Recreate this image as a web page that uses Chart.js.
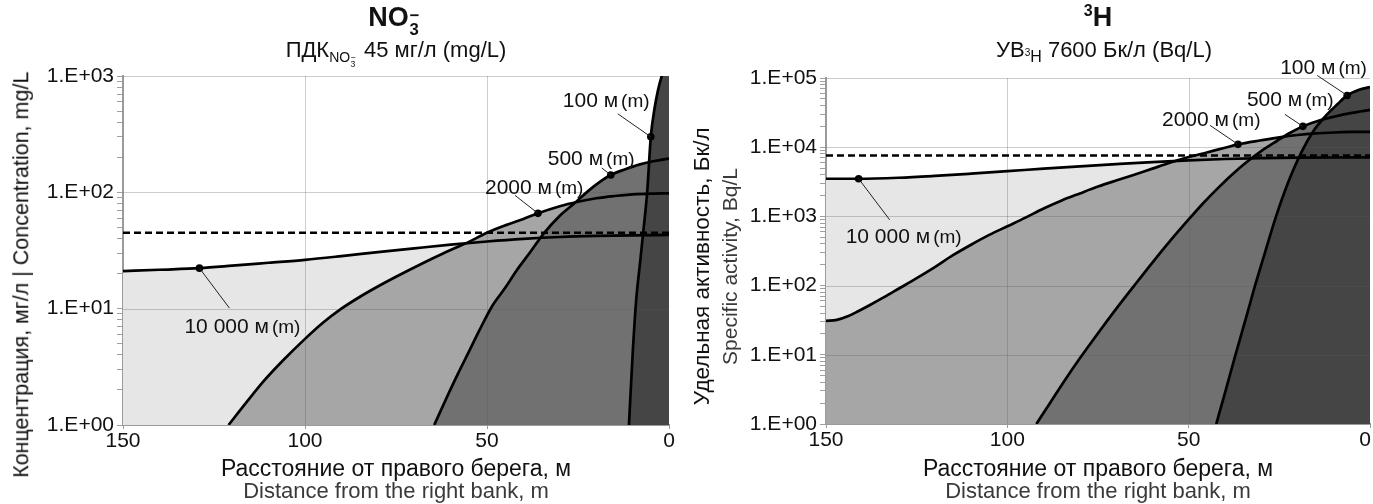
<!DOCTYPE html>
<html>
<head>
<meta charset="utf-8">
<script src="https://cdn.jsdelivr.net/npm/chart.js@4.4.1/dist/chart.umd.min.js"></script>
<style>
  body { margin: 0; background: #fff; font-family: "Liberation Sans", Arial, sans-serif; color: #111; }
  #wrap { position: relative; width: 1373px; height: 504px; overflow: hidden; }
  canvas { position: absolute; top: 0; }
  .lb { position: absolute; width: 600px; text-align: center; white-space: nowrap; line-height: 1; }
  .rot { transform: rotate(-90deg); }
  .ion { display: inline-block; position: relative; width: .55em; height: 0; }
  .ion .p { position: absolute; left: .04em; top: -1.05em; font-size: .62em; }
  .ion .b { position: absolute; left: .04em; top: -.22em; font-size: .62em; }
  .sb { font-size: 14px; position: relative; top: 5px; }
  .sp { font-size: 16px; position: relative; top: -10px; }
  .tiny { font-size: 10px; position: relative; top: -1px; }
  .gray { color: #3a3a3a; }
</style>
</head>
<body>
<div id="wrap">
  <canvas id="no3" width="690" height="504" style="left:0"></canvas>
  <canvas id="h3" width="683" height="504" style="left:690px"></canvas>

  <div class="lb" style="left:96px;top:3.5px;font-size:27px;font-weight:bold">NO<span class="ion"><span class="p">−</span><span class="b">3</span></span></div>
  <div class="lb" style="left:96px;top:39px;font-size:22px">ПДК<span class="sb">NO<span class="ion"><span class="p">−</span><span class="b">3</span></span></span> 45 мг/л (mg/L)</div>

  <div class="lb" style="left:798px;top:3.5px;font-size:27px;font-weight:bold"><span class="sp">3</span>H</div>
  <div class="lb" style="left:804px;top:39px;font-size:22px">УВ<span class="tiny">3</span><span class="sb" style="font-size:16px">H</span> 7600 Бк/л (Bq/L)</div>

  <div class="lb rot" style="left:-278px;top:264px;font-size:21.5px">Концентрация, мг/л | Concentration, mg/L</div>
  <div class="lb rot" style="left:402px;top:255px;font-size:22.5px">Удельная активность, Бк/л</div>
  <div class="lb rot gray" style="left:429px;top:255.5px;font-size:21px">Specific activity, Bq/L</div>

  <div class="lb" style="left:96px;top:456.5px;font-size:23px">Расстояние от правого берега, м</div>
  <div class="lb gray" style="left:96px;top:480px;font-size:22px">Distance from the right bank, m</div>
  <div class="lb" style="left:798px;top:456.5px;font-size:23px">Расстояние от правого берега, м</div>
  <div class="lb gray" style="left:798px;top:480px;font-size:22px">Distance from the right bank, m</div>
</div>
<script>
// distance from the right bank, m (x axis is reversed: 150 left, 0 right)
const distTicks = [150, 100, 50, 0];
const seriesNames = ['100 м', '500 м', '2000 м', '10 000 м'];
const fillColors = ['#454545', '#717171', '#a6a6a6', '#e6e6e6'];

// NO3- concentration, mg/L
const no3Limit = 45;
const no3X100 = [11, 10, 9, 8, 7, 6, 5, 4, 3, 2, 1, 0];
const no3Y100 = [1, 4, 12, 24, 48, 100, 300, 520, 760, 1000, 1250, 1450];
const no3X500 = [64.5, 61, 58, 55, 52, 48.6, 45, 42, 38, 34.5, 30, 26.3, 22, 19, 16, 12, 8, 4, 0];
const no3Y500 = [1, 1.74, 2.75, 4.25, 6.6, 10.5, 15.1, 21, 31, 44, 63, 79, 104, 123, 141, 158, 174, 186, 195];
const no3X2000 = [121, 116, 111, 106, 100, 95, 90, 85, 80, 75, 70, 65, 60, 55, 50, 45, 40, 36, 30, 25, 20, 15, 10, 5, 0];
const no3Y2000 = [1, 1.58, 2.45, 3.6, 5.5, 7.6, 10, 12.6, 15.5, 18.8, 22.6, 27, 32, 37.5, 45, 52, 59, 66, 76, 83, 89, 93, 96, 97.5, 98];
const no3X10000 = [150, 140, 129, 120, 110, 100, 90, 80, 70, 60, 50, 40, 30, 20, 10, 0];
const no3Y10000 = [21, 21.6, 22.3, 23.4, 24.8, 26.3, 28.3, 30.6, 33, 35.5, 37.8, 39.8, 41.3, 42.2, 42.7, 43];
const no3Marks = [5, 16, 36, 129];

// 3H specific activity, Bq/L
const h3Limit = 7600;
const h3X100 = [42.4, 40, 37.1, 34, 31.7, 29, 25.9, 22.5, 19, 15.5, 11.9, 9, 6.3, 3, 0];
const h3Y100 = [1, 2.8, 10, 37, 100, 295, 1000, 3160, 8300, 17400, 29500, 41700, 56000, 67600, 74000];
const h3X500 = [92, 88, 84, 80, 75, 70, 65, 60, 55, 50, 46, 42, 38, 34, 30, 25.6, 22, 18.5, 14, 10, 5, 0];
const h3Y500 = [1, 2.1, 4.4, 8.9, 20.5, 46, 100, 215, 450, 905, 1550, 2540, 4030, 6100, 8800, 12400, 16200, 20000, 24300, 27500, 31300, 34700];
const h3X2000 = [150, 147, 144, 141, 138, 134, 130, 125, 120, 115, 110, 105, 100, 95, 90, 85, 80, 75, 70, 65, 60, 55, 50, 45, 40, 36.4, 30, 25, 20, 15, 10, 5, 0];
const h3Y2000 = [31, 32, 36, 43, 52, 68, 90, 128, 185, 275, 390, 540, 720, 960, 1300, 1700, 2150, 2700, 3300, 4000, 4900, 6000, 7200, 8400, 9800, 11000, 12600, 13900, 15000, 15800, 16300, 16600, 16700];
const h3X10000 = [150, 141, 130, 120, 110, 100, 90, 80, 70, 60, 50, 40, 30, 20, 10, 0];
const h3Y10000 = [3500, 3500, 3620, 3850, 4150, 4500, 4900, 5300, 5700, 6100, 6450, 6750, 6950, 7050, 7100, 7120];
const h3Marks = [6.3, 18.5, 36.4, 141];

const family = '"Liberation Sans", Arial, sans-serif';

function decadeLabel(v) {
  const e = Math.log10(v);
  if (Math.abs(e - Math.round(e)) > 1e-9) return '';
  return '1.E+' + String(Math.round(e)).padStart(2, '0');
}

// grid drawn after the fills but under the curves
const gridOver = {
  id: 'gridOver',
  beforeDatasetsDraw(chart) {
    const {ctx, chartArea: a, scales: {x, y}} = chart;
    ctx.save();
    ctx.strokeStyle = 'rgba(90,90,90,0.3)';
    ctx.lineWidth = 1;
    ctx.beginPath();
    y.ticks.forEach(t => {
      if (t.value > 1 && decadeLabel(t.value)) {
        const py = Math.round(y.getPixelForValue(t.value)) + 0.5;
        ctx.moveTo(a.left, py); ctx.lineTo(a.right, py);
      }
    });
    x.ticks.forEach(t => {
      if (t.value > 0 && t.value < 150) {
        const px = Math.round(x.getPixelForValue(t.value)) + 0.5;
        ctx.moveTo(px, a.top); ctx.lineTo(px, a.bottom);
      }
    });
    ctx.stroke();
    ctx.restore();
  }
};

// nudge the last x label ("0") so it stays inside the canvas
function lastLabelShift(dx) {
  return {
    id: 'lastLabelShift',
    beforeDraw(chart) {
      const items = chart.scales.x.getLabelItems();
      const last = items[items.length - 1];
      if (last && !last.shifted) { last.options.translation[0] += dx; last.shifted = true; }
    }
  };
}

function callouts(specs) {
  return {
    id: 'callouts',
    afterDatasetsDraw(chart) {
      const ctx = chart.ctx;
      specs.forEach(s => {
        const p = chart.getDatasetMeta(s.ds).data[s.idx];
        ctx.save();
        ctx.strokeStyle = '#222';
        ctx.lineWidth = 1;
        ctx.beginPath();
        ctx.moveTo(p.x + s.lx, p.y + s.ly);
        ctx.lineTo(p.x, p.y);
        ctx.stroke();
        ctx.fillStyle = '#111';
        ctx.font = '21px ' + family;
        ctx.fillText(seriesNames[s.ds], p.x + s.dx, p.y + s.dy);
        const w = ctx.measureText(seriesNames[s.ds]).width;
        ctx.font = '19px ' + family;
        ctx.fillText('(m)', p.x + s.dx + w + 3, p.y + s.dy);
        ctx.restore();
      });
    }
  };
}

function buildChart(id, o) {
  const datasets = o.xs.map((xs, i) => {
    const mi = xs.indexOf(o.marks[i]);
    return {
      data: xs.map((x, k) => ({x, y: o.ys[i][k]})),
      borderColor: '#000', borderWidth: 2.7,
      backgroundColor: fillColors[i], fill: 'start',
      cubicInterpolationMode: 'monotone',
      pointRadius: c => c.dataIndex === mi ? 3.8 : 0,
      pointHoverRadius: 0,
      pointBackgroundColor: '#000', pointBorderColor: '#000', pointBorderWidth: 0
    };
  });
  datasets.push({
    data: [{x: distTicks[0], y: o.limit}, {x: 0, y: o.limit}],
    borderColor: '#000', borderWidth: 2.4, borderDash: [7, 4],
    pointRadius: 0, fill: false
  });
  const specs = o.callouts.map((c, i) => Object.assign({ds: i, idx: o.xs[i].indexOf(o.marks[i])}, c));

  return new Chart(document.getElementById(id), {
    type: 'line',
    data: {datasets},
    options: {
      responsive: false, animation: false, events: [],
      layout: {padding: {left: 0, right: o.padRight, top: o.padTop, bottom: 0}},
      plugins: {legend: {display: false}, tooltip: {enabled: false}, filler: {drawTime: 'beforeDatasetsDraw'}},
      scales: {
        x: {
          type: 'linear', reverse: true, min: 0, max: 150,
          afterBuildTicks: s => { s.ticks = distTicks.map(v => ({value: v})); },
          afterFit: s => { s.height = o.xHeight; s.paddingLeft = 0; s.paddingRight = 0; },
          grid: {drawOnChartArea: false, tickLength: 4, color: '#9a9a9a'},
          border: {color: '#9a9a9a', width: 2},
          ticks: {autoSkip: false, maxRotation: 0, padding: 0, color: '#111', font: {size: 21, family}}
        },
        y: {
          type: 'logarithmic', min: 1, max: 10 ** o.decades,
          afterBuildTicks: s => {
            const t = [];
            for (let e = 0; e < o.decades; e++) for (let m = 1; m < 10; m++) t.push({value: m * 10 ** e});
            t.push({value: 10 ** o.decades});
            s.ticks = t;
          },
          afterFit: s => { s.width = o.yWidth; s.paddingTop = 0; s.paddingBottom = 0; },
          grid: {drawOnChartArea: false, tickLength: 6, color: '#a0a0a0'},
          border: {color: '#9a9a9a', width: 2},
          ticks: {autoSkip: false, padding: 3, color: '#111', font: {size: 21, family}, callback: v => decadeLabel(v)}
        }
      }
    },
    plugins: [gridOver, lastLabelShift(o.zeroShift), callouts(specs)]
  });
}

buildChart('no3', {
  xs: [no3X100, no3X500, no3X2000, no3X10000],
  ys: [no3Y100, no3Y500, no3Y2000, no3Y10000],
  marks: no3Marks, limit: no3Limit, decades: 3,
  yWidth: 123, xHeight: 79, padTop: 76, padRight: 21, zeroShift: 0,
  callouts: [
    {dx: -88, dy: -30, lx: -33, ly: -23},
    {dx: -63, dy: -10, lx: -9, ly: -7},
    {dx: -53, dy: -19, lx: -23, ly: -18},
    {dx: -15, dy: 65, lx: 30, ly: 40}
  ]
});

buildChart('h3', {
  xs: [h3X100, h3X500, h3X2000, h3X10000],
  ys: [h3Y100, h3Y500, h3Y2000, h3Y10000],
  marks: h3Marks, limit: h3Limit, decades: 5,
  yWidth: 136, xHeight: 80, padTop: 78, padRight: 3, zeroShift: -5,
  callouts: [
    {dx: -67, dy: -21, lx: -30, ly: -20},
    {dx: -56, dy: -20, lx: -18, ly: -12},
    {dx: -76, dy: -18, lx: -28, ly: -19},
    {dx: -13, dy: 64, lx: 31, ly: 41}
  ]
});
</script>
</body>
</html>
